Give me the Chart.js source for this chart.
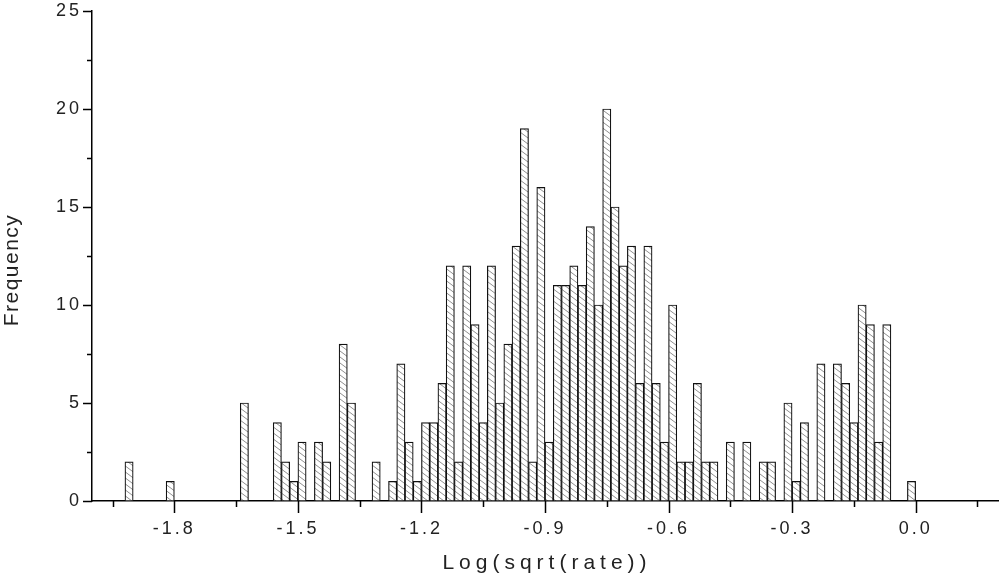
<!DOCTYPE html>
<html>
<head>
<meta charset="utf-8">
<script src="https://cdn.jsdelivr.net/npm/chart.js@4/dist/chart.umd.min.js"></script>
<style>
  html, body { margin: 0; padding: 0; background: #fff; }
</style>
</head>
<body>
<canvas id="chart" width="1000" height="578"></canvas>
<script>
// histogram bins: 0.02 wide, starting at -2.0
const binStart = -2.0
const binWidth = 0.02
const counts = [
  0, 0, 0, 0, 2, 0, 0, 0, 0, 1,
  0, 0, 0, 0, 0, 0, 0, 0, 5, 0,
  0, 0, 4, 2, 1, 3, 0, 3, 2, 0,
  8, 5, 0, 0, 2, 0, 1, 7, 3, 1,
  4, 4, 6, 12, 2, 12, 9, 4, 12, 5,
  8, 13, 19, 2, 16, 3, 11, 11, 12, 11,
  14, 10, 20, 15, 12, 13, 6, 13, 6, 3,
  10, 2, 2, 6, 2, 2, 0, 3, 0, 3,
  0, 2, 2, 0, 5, 1, 4, 0, 7, 0,
  7, 6, 4, 10, 9, 3, 9, 0, 0, 1,
]

const xMajorTicks = [-1.8, -1.5, -1.2, -0.9, -0.6, -0.3, 0.0]
const xMinorTicks = [-1.95, -1.65, -1.35, -1.05, -0.75, -0.45, -0.15, 0.15]
const yMajorTicks = [0, 5, 10, 15, 20, 25]
const yMinorTicks = [2.5, 7.5, 12.5, 17.5, 22.5]
const xTitle = 'Log(sqrt(rate))'
const yTitle = 'Frequency'

const textColor = '#222'
const fontFamily = '"Liberation Sans", Arial, sans-serif'

function isMajor(list, v) {
  return list.some(t => Math.abs(t - v) < 1e-6)
}

function makeHatch(ctx) {
  const c = document.createElement('canvas')
  c.width = 8
  c.height = 6
  const g = c.getContext('2d')
  g.fillStyle = '#fff'
  g.fillRect(0, 0, 8, 6)
  g.strokeStyle = '#8f8f8f'
  g.lineWidth = 1
  g.beginPath()
  g.moveTo(-8, -6); g.lineTo(16, 12)
  g.moveTo(-8, 0); g.lineTo(8, 12)
  g.moveTo(0, -6); g.lineTo(16, 6)
  g.stroke()
  return ctx.createPattern(c, 'repeat')
}

// tick marks + axis titles, placed through the chart scales
const axisDecor = {
  id: 'axisDecor',
  beforeDraw(chart) {
    chart.ctx.letterSpacing = '3px'
  },
  afterDraw(chart) {
    const { ctx, chartArea, scales: { x, y } } = chart
    ctx.save()
    ctx.letterSpacing = '0px'
    ctx.strokeStyle = '#000'
    ctx.lineWidth = 1.5
    ctx.beginPath()
    xMajorTicks.forEach(v => {
      const px = Math.round(x.getPixelForValue(v)) + 0.5
      ctx.moveTo(px, chartArea.bottom)
      ctx.lineTo(px, chartArea.bottom + 12)
    })
    xMinorTicks.forEach(v => {
      const px = Math.round(x.getPixelForValue(v)) + 0.5
      ctx.moveTo(px, chartArea.bottom)
      ctx.lineTo(px, chartArea.bottom + 6)
    })
    yMajorTicks.forEach(v => {
      const py = Math.round(y.getPixelForValue(v)) + 0.5
      ctx.moveTo(chartArea.left, py)
      ctx.lineTo(chartArea.left - 9, py)
    })
    yMinorTicks.forEach(v => {
      const py = Math.round(y.getPixelForValue(v)) + 0.5
      ctx.moveTo(chartArea.left, py)
      ctx.lineTo(chartArea.left - 5, py)
    })
    ctx.stroke()

    ctx.fillStyle = textColor
    ctx.textAlign = 'center'
    ctx.textBaseline = 'middle'
    ctx.font = '21px ' + fontFamily
    ctx.letterSpacing = '5px'
    ctx.fillText(xTitle, (chartArea.left + chartArea.right) / 2 + 2, 563)

    ctx.font = '21px ' + fontFamily
    ctx.letterSpacing = '1.5px'
    ctx.translate(12, 270)
    ctx.rotate(-Math.PI / 2)
    ctx.fillText(yTitle, 0, 0)
    ctx.restore()
  },
}

const canvas = document.getElementById('chart')
const ctx = canvas.getContext('2d')

const barData = counts
  .map((c, i) => ({ x: binStart + binWidth * (i + 0.5), y: c }))
  .filter(d => d.y > 0)

new Chart(ctx, {
  type: 'bar',
  data: {
    datasets: [{
      data: barData,
      backgroundColor: makeHatch(ctx),
      borderColor: '#111',
      borderWidth: 1.2,
      borderSkipped: false,
      barPercentage: 1,
      categoryPercentage: 1,
    }],
  },
  options: {
    responsive: false,
    animation: false,
    layout: { padding: { left: 0, top: 11, right: 2, bottom: 0 } },
    plugins: { legend: { display: false }, tooltip: { enabled: false } },
    scales: {
      x: {
        type: 'linear',
        min: -2.0,
        max: 0.2,
        offset: false,
        afterFit: s => {
          s.height = 77
          s.paddingLeft = 0
          s.paddingRight = 0
        },
        afterBuildTicks: s => {
          s.ticks = [...xMajorTicks, ...xMinorTicks].sort((a, b) => a - b).map(v => ({ value: v }))
        },
        grid: { display: false, drawTicks: false },
        border: { display: true, color: '#000', width: 1.5 },
        ticks: {
          autoSkip: false,
          maxRotation: 0,
          padding: 17,
          color: textColor,
          font: { family: fontFamily, size: 18 },
          callback: v => isMajor(xMajorTicks, v) ? v.toFixed(1) : '',
        },
      },
      y: {
        min: 0,
        max: 25,
        afterFit: s => {
          s.width = 92
          s.paddingTop = 0
          s.paddingBottom = 0
        },
        afterBuildTicks: s => {
          s.ticks = [...yMajorTicks, ...yMinorTicks].sort((a, b) => a - b).map(v => ({ value: v }))
        },
        grid: { display: false, drawTicks: false },
        border: { display: true, color: '#000', width: 1.5 },
        ticks: {
          autoSkip: false,
          padding: 10,
          color: textColor,
          font: { family: fontFamily, size: 18 },
          callback: v => isMajor(yMajorTicks, v) ? String(v) : '',
        },
      },
    },
  },
  plugins: [axisDecor],
})
</script>
</body>
</html>
